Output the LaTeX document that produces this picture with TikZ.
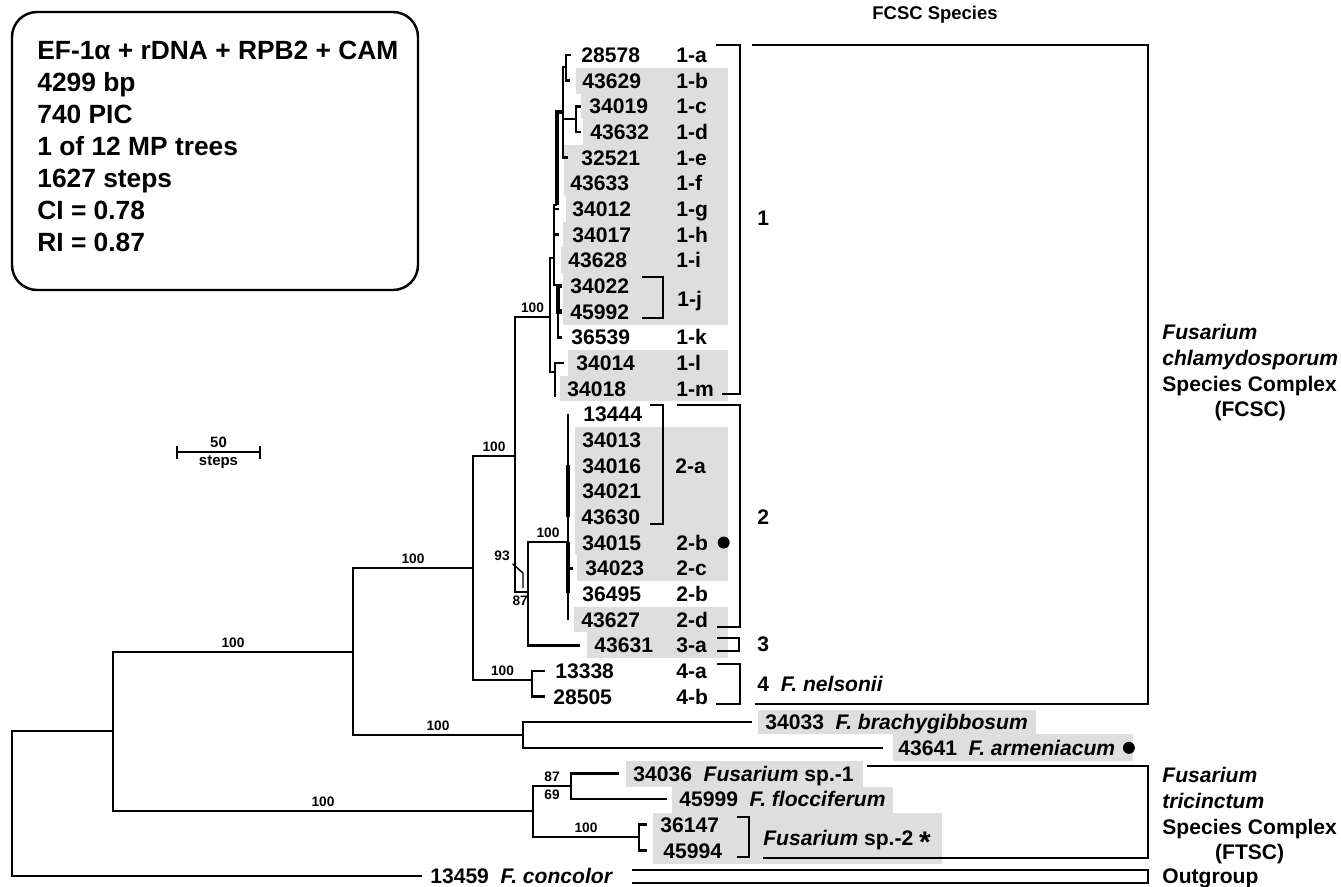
\documentclass[tikz,border=0pt]{standalone}
\usepackage{fontspec}
\setmainfont{Liberation Sans}
\usepackage{tikz}
\usetikzlibrary{positioning}
\definecolor{shadegray}{gray}{0.87}

\newcommand{\taxfont}{\fontsize{12}{14.6}\selectfont\bfseries}
\newcommand{\bootfont}{\fontsize{7.8}{9}\selectfont\bfseries}
\newcommand{\infofont}{\fontsize{15}{18}\selectfont\bfseries}
\newcommand{\rowy}[1]{55+25.66*#1}

\begin{document}
\begin{tikzpicture}[
  x=0.02cm, y=-0.02cm,
  branch/.style={line width=1.5pt},
  thickbranch/.style={line width=2.4pt},
  bracketline/.style={line width=0.8pt},
  taxon/.style={anchor=west, inner sep=0pt, text height=8.6pt, text depth=0pt, font=\taxfont},
  infoline/.style={anchor=west, inner sep=0pt, text height=10.7pt, text depth=0pt, font=\infofont},
  boot/.style={inner sep=1.5pt, font=\bootfont},
  shade/.style={fill=shadegray, draw=none},
  bullet/.style={circle, fill=black, inner sep=0pt, minimum size=0.24cm}
]
\useasboundingbox (0,0) rectangle (1341,886);

% grey boxes behind the taxa
\foreach \i/\xl in {1/576,2/581,3/583,4/564,5/564,6/566,7/563,8/561,9/563,10/563,12/568,13/560,
                   15/575,16/575,17/575,18/575,19/575,20/577,22/574,23/587}
  \fill[shade] (\xl,{\rowy{\i}-12.9}) rectangle (728,{\rowy{\i}+12.9});
\fill[shade] (758,710) rectangle (1036,734);
\fill[shade] (893,734) rectangle (1133,761);
\fill[shade] (626,761) rectangle (863,787);
\fill[shade] (672,787) rectangle (893,813);
\fill[shade] (653,813) rectangle (942,864);

% info box
\draw[line width=1.4pt, rounded corners=0.5cm] (12,12) rectangle (418,290);
\foreach \txt [count=\k from 0] in {EF-1α + rDNA + RPB2 + CAM, 4299 bp, 740 PIC, 1 of 12 MP trees,
                                    1627 steps, CI = 0.78, RI = 0.87}
  \node[infoline] (info\k) at (37,{50+32*\k}) {\txt};

% taxa with species codes
\foreach \i/\x/\num/\code in {0/581/28578/1-a, 1/582/43629/1-b, 2/589/34019/1-c, 3/590/43632/1-d,
    4/581/32521/1-e, 5/570/43633/1-f, 6/572/34012/1-g, 7/572/34017/1-h, 8/568/43628/1-i,
    11/571/36539/1-k, 12/576/34014/1-l, 13/567/34018/1-m, 19/582/34015/2-b, 20/585/34023/2-c,
    21/582/36495/2-b, 22/581/43627/2-d, 23/594/43631/3-a, 24/555/13338/4-a, 25/553/28505/4-b}
{
  \node[taxon] (n\num) at (\x,{\rowy{\i}}) {\num};
  \node[taxon] (c\num) at (676,{\rowy{\i}}) {\code};
}
% taxa sharing a bracketed code
\foreach \i/\x/\num in {9/570/34022, 10/570/45992, 14/583/13444, 15/582/34013, 16/582/34016,
    17/582/34021, 18/581/43630}
  \node[taxon] (n\num) at (\x,{\rowy{\i}}) {\num};
\node[taxon] (c1j) at (677,{\rowy{9.5}}) {1-j};
\node[taxon] (c2a) at (675,{\rowy{16}}) {2-a};
\node[bullet, right=0.18cm of c34015] (dot34015) {};

% other species
\node[taxon] (n34033) at (765,{\rowy{26}}) {34033\ \ \textit{F. brachygibbosum}};
\node[taxon] (n43641) at (898,{\rowy{27}}) {43641\ \ \textit{F. armeniacum}};
\node[bullet, right=0.14cm of n43641] (dot43641) {};
\node[taxon] (n34036) at (633,{\rowy{28}}) {34036\ \ \textit{Fusarium} sp.-1};
\node[taxon] (n45999) at (679,{\rowy{29}}) {45999\ \ \textit{F. flocciferum}};
\node[taxon] (n36147) at (660,{\rowy{30}}) {36147};
\node[taxon] (n45994) at (663,{\rowy{31}}) {45994};
\node[taxon] (sp2) at (763,{\rowy{30.5}})
  {\textit{Fusarium} sp.-2 {\fontsize{17}{17}\selectfont\raisebox{-0.45ex}{*}}};
\node[taxon] (n13459) at (430,{\rowy{32}}) {13459\ \ \textit{F. concolor}};

% tree nodes
\coordinate (R) at (12,804);
\coordinate (A) at (113,731);
\coordinate (B) at (353,652);
\coordinate (C) at (523,735);
\coordinate (D) at (473,568);
\coordinate (E) at (515,456);
\coordinate (F) at (528,592);
\coordinate (G) at (568,542);
\coordinate (Q) at (532,680);
\coordinate (T) at (533,811);
\coordinate (U) at (571,786);
\coordinate (V) at (639,837);
\coordinate (K) at (550,317);
\coordinate (K1) at (554,258);
\coordinate (Klm) at (555,372);
\coordinate (K2) at (557,205);
\coordinate (Kae) at (563,112);
\coordinate (Kab) at (566,67);
\coordinate (Kcd) at (576,119);
\coordinate (Kj) at (558,285);
\coordinate (g2top) at (568,{\rowy{14}});
\coordinate (g2bot) at (568,{\rowy{22}});
% tips
\coordinate (og) at (422,{\rowy{32}});
\coordinate (x34033) at (752,{\rowy{26}});
\coordinate (x43641) at (883,{\rowy{27}});
\coordinate (x34036) at (619,{\rowy{28}});
\coordinate (x45999) at (667,{\rowy{29}});
\coordinate (x36147) at (647,{\rowy{30}});
\coordinate (x45994) at (647,{\rowy{31}});
\coordinate (x13338) at (545,{\rowy{24}});
\coordinate (x28505) at (545,{\rowy{25}});
\coordinate (x43631) at (580,{\rowy{23}});
\coordinate (x28578) at (571,{\rowy{0}});
\coordinate (x43629) at (570,{\rowy{1}});
\coordinate (x34019) at (581,{\rowy{2}});
\coordinate (x43632) at (581,{\rowy{3}});
\coordinate (x32521) at (568,{\rowy{4}});
\coordinate (x34012) at (559,{\rowy{6}});
\coordinate (x34017) at (559,{\rowy{7}});
\coordinate (x34022) at (562,{\rowy{9}});
\coordinate (x45992) at (562,{\rowy{10}});
\coordinate (x36539) at (562,{\rowy{11}});
\coordinate (x34014) at (564,{\rowy{12}});
\coordinate (x34018) at (555,{\rowy{13}+8});
\coordinate (x34023) at (573,{\rowy{20}});

% branches
\draw[branch] (R) |- (A);
\draw[branch] (R) |- (og);
\draw[branch] (A) |- node[boot, above, pos=0.75] (bAB) {100} (B);
\draw[branch] (A) |- node[boot, above, pos=0.75] (bAT) {100} (T);
\draw[branch] (B) |- node[boot, above, pos=0.75] (bBD) {100} (D);
\draw[branch] (B) |- node[boot, above, pos=0.75] (bBC) {100} (C);
\draw[branch] (C) |- (x34033);
\draw[branch] (C) |- (x43641);
\draw[branch] (D) |- node[boot, above, pos=0.75] (bDE) {100} (E);
\draw[branch] (D) |- node[boot, above, pos=0.75] (bDQ) {100} (Q);
\draw[branch] (Q) |- (x13338);
\draw[branch] (Q) |- (x28505);
\draw[branch] (E) |- node[boot, above, pos=0.75] (bEK) {100} (K);
\draw[branch] (E) |- node[boot, below, pos=0.7] (bEF) {87} (F);
\draw[branch] (F) |- node[boot, above, pos=0.75] (bFG) {100} (G);
\draw[branch] (F) |- (x43631);
\draw[branch] (G) -- (g2top);
\draw[branch] (G) -- (g2bot);
\draw[thickbranch] (568,465) -- (568,517);
\draw[thickbranch] (568,542) -- (568,593);
\draw[branch] (g2bot |- x34023) -- (x34023);
\draw[branch] (K) |- (K1);
\draw[branch] (K) |- (Klm);
\draw[branch] (Klm) |- (x34014);
\draw[branch] (Klm) |- (x34018);
\draw[branch] (K1) |- (K2);
\draw[branch] (K1) |- (x34012);
\draw[branch] (K1) |- (x34017);
\draw[branch] (K1) |- (Kj);
\draw[thickbranch] (Kj) |- (x34022);
\draw[thickbranch] (Kj) |- (x45992);
\draw[branch] (Kj) |- (x36539);
\draw[thickbranch] (K2) |- (Kae);
\draw[branch] (Kae) |- (Kab);
\draw[branch] (Kae) |- (Kcd);
\draw[branch] (Kae) |- (x32521);
\draw[branch] (Kab) |- (x28578);
\draw[branch] (Kab) |- (x43629);
\draw[branch] (Kcd) |- (x34019);
\draw[branch] (Kcd) |- (x43632);
\draw[branch] (T) |- node[boot, above, pos=0.75] (bTU) {87} node[boot, below, pos=0.75] (bTU2) {69} (U);
\draw[branch] (T) |- node[boot, above, pos=0.75] (bTV) {100} (V);
\draw[branch] (U) |- (x34036);
\draw[branch] (U) |- (x45999);
\draw[branch] (V) |- (x36147);
\draw[branch] (V) |- (x45994);

% bootstrap 93 with its pointer
\node[boot] (b93) at (502,556) {93};
\coordinate (k93) at (523,573);
\coordinate (c93) at (523,588);
\draw[bracketline] (b93.south east) -- (k93) -- (c93);

% scale bar
\coordinate (sbL) at (177,452);
\coordinate (sbR) at (260,452);
\draw[branch] (sbL) -- node[boot, font=\fontsize{8.5}{10}\selectfont\bfseries, above] (sb50) {50}
  node[boot, font=\fontsize{8.5}{10}\selectfont\bfseries, below] (sbsteps) {steps} (sbR);
\draw[branch] ([yshift=0.13cm]sbL) -- ([yshift=-0.13cm]sbL);
\draw[branch] ([yshift=0.13cm]sbR) -- ([yshift=-0.13cm]sbR);

% brackets
\draw[bracketline] (642,277) -| (663,318) -- (642,318);
\draw[bracketline] (650,405) -| (663,524) -- (650,524);
\draw[bracketline] (737,817) -| (749,857) -- (737,857);
\draw[bracketline] (716,45) -| (740,394) -- (722,394);
\draw[bracketline] (677,405) -| (740,627) -- (717,627);
\draw[bracketline] (717,638) -| (739,651) -- (717,651);
\draw[bracketline] (717,664) -| (740,704) -- (716,704);
\draw[bracketline] (752,45) -| (1148,704) -- (755,704);
\draw[bracketline] (867,766) -| (1148,858) -- (763,858);
\draw[bracketline] (632,870) -| (1148,883) -- (632,883);

% clade names
\node[taxon] (cl1) at (757,218) {1};
\node[taxon] (cl2) at (757,517) {2};
\node[taxon] (cl3) at (757,644) {3};
\node[taxon] (cl4) at (757,684) {4\ \ \textit{F. nelsonii}};
\node[font=\fontsize{10.5}{12}\selectfont\bfseries, inner sep=0pt] (head) at (935,15) {FCSC Species};
\node[anchor=north west, inner sep=0pt, font=\taxfont] (fcsc) at (1162,321.5)
  {\begin{tabular}{@{}l@{}}\textit{Fusarium}\\ \textit{chlamydosporum}\\ Species Complex\\
   \multicolumn{1}{@{}c@{}}{(FCSC)}\end{tabular}};
\node[anchor=north west, inner sep=0pt, font=\taxfont] (ftsc) at (1162,764.5)
  {\begin{tabular}{@{}l@{}}\textit{Fusarium}\\ \textit{tricinctum}\\ Species Complex\\
   \multicolumn{1}{@{}c@{}}{(FTSC)}\end{tabular}};
\node[taxon] (outg) at (1162,{\rowy{32}}) {Outgroup};
\end{tikzpicture}
\end{document}
